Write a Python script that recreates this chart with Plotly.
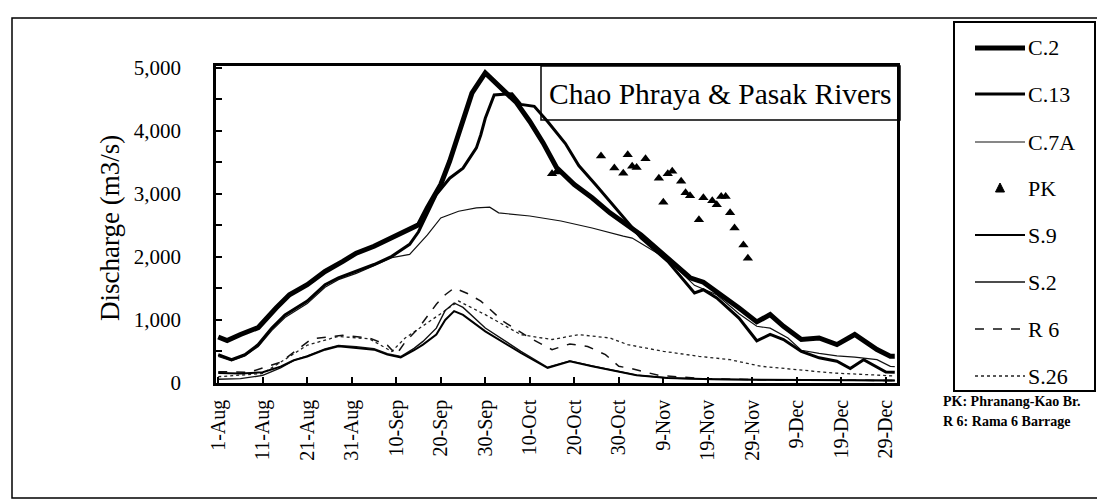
import plotly.graph_objects as go

YEAR = "1995"
SERIF = "Liberation Serif"

# ---------------- data ----------------
C2_DATES = ["08-01", "08-03", "08-06", "08-10", "08-14", "08-17", "08-21", "08-25", "08-29",
            "09-01", "09-05", "09-09", "09-13", "09-15", "09-17", "09-20", "09-22", "09-24",
            "09-25", "09-27", "09-30", "10-05", "10-07", "10-10", "10-13", "10-16", "10-20",
            "10-24", "10-28", "11-04", "11-10", "11-15", "11-18", "11-21", "11-26", "11-30",
            "12-03", "12-06", "12-10", "12-14", "12-18", "12-22", "12-27", "12-30", "12-31"]
C2_VALUES = [730, 675, 770, 880, 1190, 1400, 1560, 1770, 1930,
             2060, 2170, 2300, 2430, 2510, 2780, 3150, 3520, 3950,
             4150, 4600, 4920, 4600, 4450, 4150, 3810, 3420, 3150,
             2940, 2700, 2350, 1980, 1670, 1600, 1455, 1190, 970,
             1085, 900, 690, 715, 610, 770, 530, 425, 425]

C13_DATES = ["08-01", "08-04", "08-07", "08-10", "08-13", "08-16", "08-21", "08-25", "08-28",
             "09-01", "09-05", "09-09", "09-13", "09-15", "09-19", "09-22", "09-25", "09-28",
             "09-29", "09-30", "10-02", "10-06", "10-08", "10-11", "10-14", "10-18", "10-21",
             "10-25", "10-29", "11-04", "11-10", "11-16", "11-18", "11-21", "11-26", "11-30",
             "12-03", "12-06", "12-10", "12-14", "12-18", "12-21", "12-24", "12-26", "12-29", "12-31"]
C13_VALUES = [450, 370, 450, 610, 870, 1080, 1300, 1560, 1670,
              1770, 1880, 2010, 2200, 2400, 2990, 3250, 3410, 3730,
              3940, 4200, 4570, 4590, 4420, 4390, 4150, 3800, 3450,
              3130, 2800, 2300, 1930, 1430, 1480, 1350, 1030, 670,
              770, 690, 500, 400, 345, 230, 370, 290, 175, 170]

C7A_DATES = ["08-01", "08-04", "08-07", "08-10", "08-13", "08-16", "08-21", "08-25", "08-28",
             "09-01", "09-05", "09-09", "09-13", "09-17", "09-20", "09-24", "09-28", "10-01",
             "10-03", "10-10", "10-17", "10-24", "10-31", "11-02", "11-10", "11-16", "11-21",
             "11-26", "11-30", "12-03", "12-07", "12-10", "12-14", "12-18", "12-22", "12-27",
             "12-30", "12-31"]
C7A_VALUES = [420, 350, 430, 580, 830, 1040, 1260, 1520, 1640,
              1740, 1860, 1990, 2040, 2350, 2620, 2725, 2780, 2790,
              2700, 2650, 2570, 2460, 2330, 2300, 1960, 1550, 1400,
              1100, 900, 870, 714, 520, 470, 430, 410, 370,
              265, 260]

PK_DATES = ["10-15", "10-16", "10-26", "10-29", "10-31", "11-01", "11-02", "11-03", "11-05",
            "11-08", "11-09", "11-10", "11-11", "11-13", "11-14", "11-15", "11-17", "11-18",
            "11-20", "11-21", "11-22", "11-23", "11-24", "11-25", "11-27", "11-28"]
PK_VALUES = [3320, 3350, 3600, 3410, 3330, 3620, 3440, 3420, 3560,
             3250, 2870, 3320, 3360, 3200, 3020, 2970, 2590, 2940,
             2890, 2830, 2960, 2960, 2700, 2460, 2190, 1980]

S9_DATES = ["08-01", "08-06", "08-11", "08-15", "08-18", "08-21", "08-25", "08-28", "09-01",
            "09-05", "09-08", "09-11", "09-14", "09-16", "09-19", "09-21", "09-23", "09-25",
            "09-30", "10-08", "10-14", "10-19", "10-24", "10-30", "11-03", "11-10", "11-20",
            "12-01", "12-31"]
S9_VALUES = [160, 150, 170, 260, 360, 420, 529, 582, 556,
             529, 450, 407, 520, 610, 770, 1000, 1140, 1080,
             820, 476, 238, 344, 265, 185, 122, 80, 60,
             50, 40]

S2_DATES = ["08-01", "08-06", "08-11", "08-15", "08-18", "08-21", "08-25", "08-28", "09-01",
            "09-05", "09-08", "09-11", "09-14", "09-16", "09-19", "09-21", "09-23", "09-25",
            "09-30", "10-08", "10-14", "10-19", "10-24", "10-30", "11-03", "11-10", "11-20",
            "12-01", "12-31"]
S2_VALUES = [60, 70, 120, 240, 360, 430, 540, 595, 575,
             545, 465, 420, 550, 660, 870, 1150, 1270, 1200,
             873, 503, 250, 350, 270, 190, 125, 80, 60,
             50, 40]

R6_DATES = ["08-01", "08-08", "08-15", "08-20", "08-22", "08-29", "09-04", "09-08", "09-10",
            "09-12", "09-15", "09-19", "09-21", "09-23", "09-26", "09-29", "10-04", "10-10",
            "10-15", "10-19", "10-23", "10-27", "10-30", "11-02", "11-08", "11-18", "12-01",
            "12-31"]
R6_VALUES = [180, 170, 330, 600, 700, 757, 714, 600, 450,
             650, 870, 1250, 1400, 1508, 1420, 1300, 980, 714,
             530, 620, 580, 450, 265, 227, 120, 70, 50,
             40]

S26_DATES = ["08-01", "08-11", "08-21", "08-28", "09-04", "09-09", "09-12", "09-16", "09-20",
             "09-24", "09-30", "10-08", "10-15", "10-21", "10-28", "11-01", "11-09", "11-17",
             "11-24", "12-01", "12-09", "12-17", "12-28", "12-31"]
S26_VALUES = [100, 150, 600, 740, 700, 500, 714, 900, 1100,
              1300, 1084, 767, 690, 767, 714, 608, 503, 423,
              370, 265, 212, 159, 122, 110]

X_TICK_DATES = ["08-01", "08-11", "08-21", "08-31", "09-10", "09-20", "09-30", "10-10",
                "10-20", "10-30", "11-09", "11-19", "11-29", "12-09", "12-19", "12-29"]
X_TICK_TEXT = ["1-Aug", "11-Aug", "21-Aug", "31-Aug", "10-Sep", "20-Sep", "30-Sep", "10-Oct",
               "20-Oct", "30-Oct", "9-Nov", "19-Nov", "29-Nov", "9-Dec", "19-Dec", "29-Dec"]
Y_TICK_VALUES = [0, 1000, 2000, 3000, 4000, 5000]
Y_TICK_TEXT = ["0", "1,000", "2,000", "3,000", "4,000", "5,000"]

TITLE = "Chao Phraya & Pasak Rivers"
Y_TITLE = "Discharge (m3/s)"
NOTES = ["PK: Phranang-Kao Br.", "R 6: Rama 6 Barrage"]
LEGEND_ORDER = ["C.2", "C.13", "C.7A", "PK", "S.9", "S.2", "R 6", "S.26"]


def d(lst):
    return [f"{YEAR}-{s}" for s in lst]


# ---------------- figure ----------------
fig = go.Figure()

STYLE = {
    # name: (width, dash, color)
    "C.2": (5.0, "solid", "black"),
    "C.13": (3.0, "solid", "black"),
    "C.7A": (1.2, "solid", "#111111"),
    "S.9": (2.0, "solid", "black"),
    "S.2": (1.4, "solid", "#111111"),
    "R 6": (1.5, "dash", "#111111"),
    "S.26": (1.3, "dot", "#222222"),
}

line_series = [
    ("S.26", S26_DATES, S26_VALUES),
    ("R 6", R6_DATES, R6_VALUES),
    ("S.2", S2_DATES, S2_VALUES),
    ("S.9", S9_DATES, S9_VALUES),
    ("C.7A", C7A_DATES, C7A_VALUES),
    ("C.13", C13_DATES, C13_VALUES),
    ("C.2", C2_DATES, C2_VALUES),
]
for name, dts, vals in line_series:
    w, dash, col = STYLE[name]
    fig.add_trace(go.Scatter(
        x=d(dts), y=vals, mode="lines", name=name,
        line=dict(color=col, width=w, dash=dash), showlegend=False,
    ))

fig.add_trace(go.Scatter(
    x=d(PK_DATES), y=PK_VALUES, mode="markers", name="PK",
    marker=dict(symbol="triangle-up", size=9, color="black"), showlegend=False,
))

W, H = 1105, 504
L, R, T, B = 208, 216, 58, 129
PW, PH = W - L - R, H - T - B


def px(x):
    return (x - L) / PW


def py(y):
    return (H - B - y) / PH


shapes = [
    # outer frame of the figure
    dict(type="rect", xref="paper", yref="paper",
         x0=px(4), x1=px(1102), y0=py(490), y1=py(10),
         line=dict(color="black", width=1.5), layer="below"),
    # title box
    dict(type="rect", xref="paper", yref="paper",
         x0=px(533), x1=px(892), y0=py(112), y1=py(58),
         line=dict(color="black", width=1.5), layer="above"),
    # legend box
    dict(type="rect", xref="paper", yref="paper",
         x0=px(946), x1=px(1087), y0=py(383), y1=py(14),
         line=dict(color="black", width=2), fillcolor="white", layer="above"),
]
annotations = [
    dict(text=TITLE, xref="paper", yref="paper", x=px(712), y=py(86),
         xanchor="center", yanchor="middle", showarrow=False,
         font=dict(family=SERIF, size=29.5, color="black")),
    dict(text=Y_TITLE, xref="paper", yref="paper", x=px(102), y=py(220),
         xanchor="center", yanchor="middle", showarrow=False, textangle=-90,
         font=dict(family=SERIF, size=27, color="black")),
    dict(text=f"<b>{NOTES[0]}</b>", xref="paper", yref="paper", x=px(933), y=py(393),
         xanchor="left", yanchor="middle", showarrow=False,
         font=dict(family=SERIF, size=14, color="black")),
    dict(text=f"<b>{NOTES[1]}</b>", xref="paper", yref="paper", x=px(933), y=py(413),
         xanchor="left", yanchor="middle", showarrow=False,
         font=dict(family=SERIF, size=14, color="black")),
]

# manual legend
LEG_Y = [40, 86, 134, 180, 227, 274, 321, 368]
for name, ly in zip(LEGEND_ORDER, LEG_Y):
    if name == "PK":
        cx, cy = 992, ly
        shapes.append(dict(
            type="path", xref="paper", yref="paper",
            path=(f"M {px(cx - 4.5)},{py(cy + 4)} L {px(cx + 4.5)},{py(cy + 4)} "
                  f"L {px(cx)},{py(cy - 5)} Z"),
            fillcolor="black", line=dict(color="black", width=1), layer="above"))
    else:
        w, dash, col = STYLE[name]
        shapes.append(dict(
            type="line", xref="paper", yref="paper",
            x0=px(967), x1=px(1017), y0=py(ly), y1=py(ly),
            line=dict(color=col, width=w, dash=dash), layer="above"))
    annotations.append(dict(
        text=name, xref="paper", yref="paper", x=px(1018), y=py(ly),
        xanchor="left", yanchor="middle", showarrow=False,
        font=dict(family=SERIF, size=22, color="black")))

fig.update_layout(
    width=W, height=H,
    margin=dict(l=L, r=R, t=T, b=B),
    paper_bgcolor="white", plot_bgcolor="white",
    font=dict(family=SERIF, color="black"),
    showlegend=False,
    xaxis=dict(
        type="date",
        range=[f"{YEAR}-07-31 12:00", f"{YEAR}-12-31 12:00"],
        tickvals=d(X_TICK_DATES), ticktext=X_TICK_TEXT,
        tickangle=-90, tickfont=dict(family=SERIF, size=20, color="black"),
        ticks="inside", ticklen=6, tickwidth=1.5, tickcolor="black",
        showline=True, linecolor="black", linewidth=2.5, mirror=True,
        showgrid=False, zeroline=False, ticklabelstandoff=6,
    ),
    yaxis=dict(
        range=[0, 5030],
        tickvals=Y_TICK_VALUES, ticktext=Y_TICK_TEXT,
        tickfont=dict(family=SERIF, size=21, color="black"),
        ticks="inside", ticklen=6, tickwidth=1.5, tickcolor="black",
        minor=dict(dtick=500, ticks="inside", ticklen=6, tickcolor="black", tickwidth=1.5),
        showline=True, linecolor="black", linewidth=2.5, mirror=True,
        showgrid=False, zeroline=False, ticklabelstandoff=28,
    ),
    shapes=shapes,
    annotations=annotations,
)

fig.write_html("out.html")
